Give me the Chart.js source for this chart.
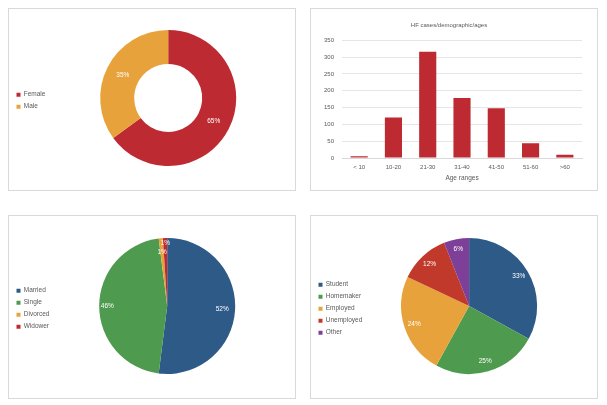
<!DOCTYPE html>
<html>
<head>
<meta charset="utf-8">
<script src="https://cdn.jsdelivr.net/npm/chart.js@4.4.1/dist/chart.umd.min.js"></script>
<style>
  html, body { margin: 0; padding: 0; background: #fff; }
  body { width: 607px; height: 405px; position: relative; overflow: hidden; }
  .panel { position: absolute; border: 1px solid #d9d9d9; box-sizing: border-box; }
  .panel canvas { position: absolute; left: 0; top: 0; }
</style>
</head>
<body>
<div class="panel" style="left:8px;top:8px;width:288px;height:183px"><canvas id="genderChart"></canvas></div>
<div class="panel" style="left:310px;top:8px;width:288px;height:183px"><canvas id="ageChart"></canvas></div>
<div class="panel" style="left:8px;top:215px;width:288px;height:184px"><canvas id="maritalChart"></canvas></div>
<div class="panel" style="left:310px;top:215px;width:288px;height:184px"><canvas id="jobChart"></canvas></div>
<script>
// Data
const genderLabels = ["Female", "Male"];
const genderValues = [65, 35];

const ageLabels = ["< 10", "10-20", "21-30", "31-40", "41-50", "51-60", ">60"];
const ageValues = [5, 120, 316, 178, 148, 44, 10];
const ageTicks = [0, 50, 100, 150, 200, 250, 300, 350];

const maritalLabels = ["Married", "Single", "Divorced", "Widower"];
const maritalValues = [52, 46, 1, 1];

const jobLabels = ["Student", "Homemaker", "Employed", "Unemployed", "Other"];
const jobValues = [33, 25, 24, 12, 6];

const FONT = '"Liberation Sans", Arial, sans-serif';
const GREY = "#595959";
Chart.defaults.font.family = FONT;
Chart.defaults.color = GREY;
Chart.defaults.animation = false;

// writes the "xx%" text inside each slice
const sliceLabels = {
  id: "sliceLabels",
  afterDatasetsDraw(chart) {
    const opts = chart.options.plugins.sliceLabels || {};
    const ctx = chart.ctx;
    const meta = chart.getDatasetMeta(0);
    const values = chart.data.datasets[0].data;
    ctx.save();
    ctx.fillStyle = "#fff";
    ctx.font = "6.5px " + FONT;
    ctx.textAlign = "center";
    ctx.textBaseline = "middle";
    meta.data.forEach((arc, i) => {
      const p = arc.getProps(["x", "y", "startAngle", "endAngle", "innerRadius", "outerRadius"], true);
      const mid = (p.startAngle + p.endAngle) / 2;
      const f = opts.radius ? opts.radius[i] : 0.5;
      const r = p.innerRadius + (p.outerRadius - p.innerRadius) * f;
      ctx.fillText(values[i] + "%", p.x + Math.cos(mid) * r, p.y + Math.sin(mid) * r);
    });
    ctx.restore();
  }
};

function legendOpts() {
  return {
    position: "left",
    // empty title only nudges the items down a little
    title: { display: true, text: "", padding: 0, font: { size: 4.5 } },
    labels: {
      boxWidth: 4,
      boxHeight: 4,
      padding: 5.5,
      color: GREY,
      font: { size: 6.5 }
    }
  };
}

function pieChart(id, type, labels, values, colors, padding, radius, cutout) {
  const el = document.getElementById(id);
  el.width = 286;
  el.height = el.parentNode.clientHeight;
  return new Chart(el, {
    type: type,
    data: {
      labels: labels,
      datasets: [{ data: values, backgroundColor: colors, borderWidth: 0 }]
    },
    options: {
      responsive: false,
      cutout: cutout,
      layout: { padding: padding },
      plugins: {
        legend: legendOpts(),
        tooltip: { enabled: false },
        sliceLabels: { radius: radius }
      }
    },
    plugins: [sliceLabels]
  });
}

pieChart("genderChart", "doughnut", genderLabels, genderValues,
  ["#BE2A32", "#E8A23B"],
  { left: 2, right: 14, top: 21, bottom: 24 }, [0.5, 0.5], "50%");

pieChart("maritalChart", "pie", maritalLabels, maritalValues,
  ["#2E5A88", "#4E9A4E", "#E8A23B", "#BE2A32"],
  { left: 2, right: 20, top: 22, bottom: 24 }, [0.81, 0.88, 0.8, 0.93], 0);

pieChart("jobChart", "pie", jobLabels, jobValues,
  ["#2E5A88", "#4E9A4E", "#E8A23B", "#C0392B", "#7E3F98"],
  { left: 2, right: 31, top: 22, bottom: 24 }, [0.85, 0.85, 0.85, 0.85, 0.85], 0);

// Bar chart of cases per age range
const ageEl = document.getElementById("ageChart");
ageEl.width = 286;
ageEl.height = 181;
new Chart(ageEl, {
  type: "bar",
  data: {
    labels: ageLabels,
    datasets: [{
      label: "Cases",
      data: ageValues,
      backgroundColor: "#BE2A32",
      barPercentage: 0.5,
      categoryPercentage: 1
    }]
  },
  options: {
    responsive: false,
    layout: { padding: { left: 5, right: 15, top: 0, bottom: 8 } },
    plugins: {
      legend: { display: false },
      tooltip: { enabled: false },
      title: {
        display: true,
        text: "HF cases/demographic/ages",
        color: GREY,
        font: { size: 6, weight: "normal" },
        padding: { top: 13, bottom: 11 }
      }
    },
    scales: {
      x: {
        grid: { display: false, drawTicks: false },
        border: { color: "#d9d9d9" },
        ticks: { color: GREY, font: { size: 6 }, padding: 6 },
        title: { display: true, text: "Age ranges", color: GREY, font: { size: 6.5 }, padding: { top: -3, bottom: 0 } }
      },
      y: {
        min: 0,
        max: 350,
        afterBuildTicks: (axis) => { axis.ticks = ageTicks.map(v => ({ value: v })); },
        grid: { color: "#e6e6e6", drawTicks: false },
        border: { display: false },
        ticks: { color: GREY, font: { size: 6 }, padding: 8 }
      }
    }
  }
});
</script>
</body>
</html>
